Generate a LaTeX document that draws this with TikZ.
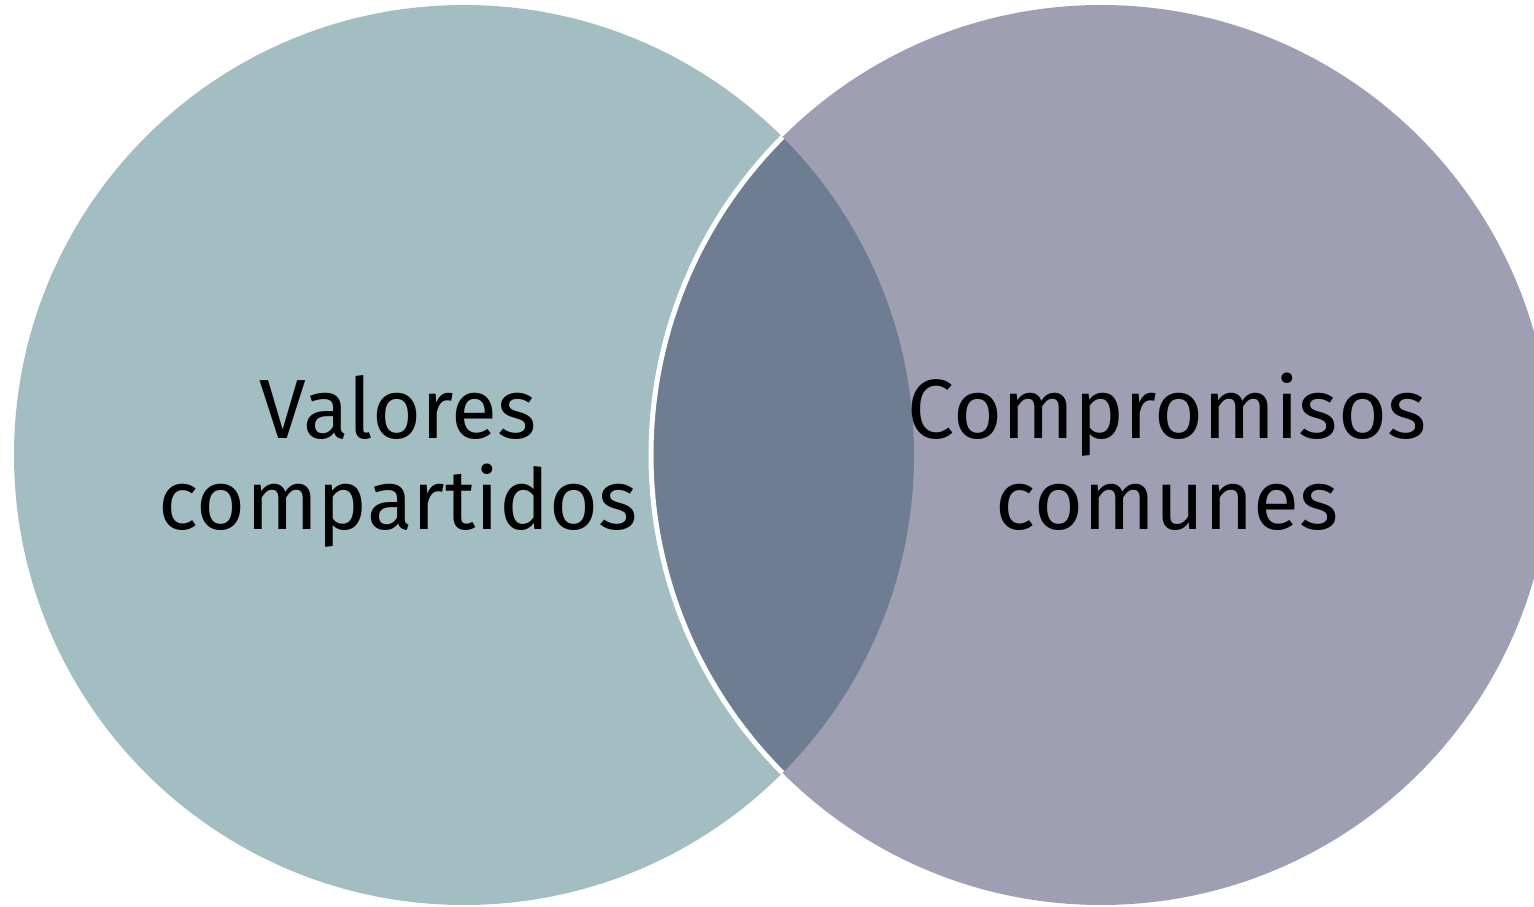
\documentclass[tikz,border=0pt]{standalone}
\usepackage{fontspec}
\setmainfont{Fira Sans}
\definecolor{leftc}{HTML}{A2BEC3}
\definecolor{rightc}{HTML}{9E9FB3}
\definecolor{midc}{HTML}{6E7D92}
\begin{document}
\begin{tikzpicture}[x=1pt,y=-1pt,
  lbl/.style={align=center,font=\fontsize{84}{91}\selectfont,text=black,inner sep=0pt,anchor=base}]
\useasboundingbox (0,0) rectangle (1534,907);
\begin{scope}
\clip (0,0) rectangle (1534,907);
\fill[leftc] (464,455) circle[radius=450];
\fill[rightc] (1101,455) circle[radius=450];
\begin{scope}
\clip (464,455) circle[radius=450];
\fill[midc] (1101,455) circle[radius=450];
\draw[white,line width=5pt] (1101,455) circle[radius=450];
\end{scope}
\end{scope}
\node[lbl] (vals) at (398,529) {Valores\\compartidos};
\node[lbl] (comp) at (1167,529) {Compromisos\\comunes};
\end{tikzpicture}
\end{document}
